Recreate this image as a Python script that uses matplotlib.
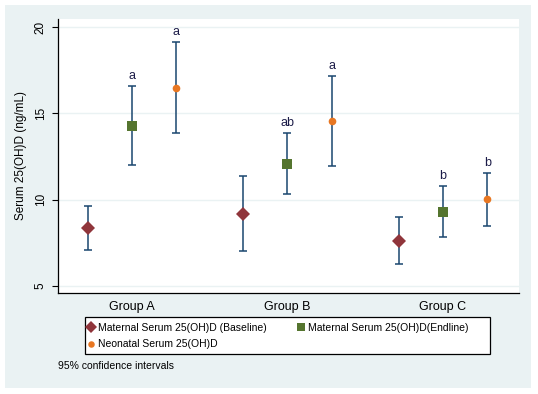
import numpy as np
import matplotlib
matplotlib.use("Agg")
import matplotlib.pyplot as plt
from matplotlib.patches import Rectangle

plt.rcParams['font.family'] = ['Liberation Sans', 'DejaVu Sans']

groups = ['Group A', 'Group B', 'Group C']
series = ['Maternal Serum 25(OH)D (Baseline)', 'Maternal Serum 25(OH)D(Endline)',
          'Neonatal Serum 25(OH)D']

# means and 95% CI bounds, per series, per group
means = [[8.34, 9.17, 7.62],
         [14.25, 12.08, 9.30],
         [16.48, 14.54, 10.02]]
lower = [[7.07, 7.01, 6.27],
         [12.00, 10.31, 7.84],
         [13.84, 11.95, 8.46]]
upper = [[9.63, 11.37, 8.98],
         [16.56, 13.84, 10.77],
         [19.11, 17.14, 11.52]]
letters = [['', '', ''],
           ['a', 'ab', 'b'],
           ['a', 'a', 'b']]

colors = ['#90353B', '#55752F', '#E87722']
markers = ['D', 's', 'o']
msizes = [7, 6.5, 5.5]
navy = '#1A476F'
bg = '#EAF2F3'

fig = plt.figure(figsize=(5.38, 3.94), dpi=100)
fig.patch.set_facecolor('white')
fig.patches.append(Rectangle((5 / 538, 1 - 388 / 394), 526 / 538, 383 / 394,
                             transform=fig.transFigure, facecolor=bg,
                             edgecolor='none', zorder=-10))

ax = fig.add_axes([58 / 538, 1 - 293 / 394, 461 / 538, 274 / 394])
ax.set_facecolor('white')

offsets = [-0.286, 0.0, 0.286]
xg = np.arange(1, 4)
handles = []
for i in range(3):
    m = np.array(means[i])
    lo = np.array(lower[i])
    hi = np.array(upper[i])
    x = xg + offsets[i]
    ax.errorbar(x, m, yerr=[m - lo, hi - m], fmt='none', ecolor=navy,
                elinewidth=1.1, capsize=3, capthick=1.1, zorder=3)
    h, = ax.plot(x, m, linestyle='none', marker=markers[i], color=colors[i],
                 markersize=msizes[i], markeredgewidth=0, zorder=4,
                 label=series[i])
    handles.append(h)
    for xi, hv, t in zip(x, hi, letters[i]):
        if t:
            ax.annotate(t, (xi, hv), xytext=(0, 3), textcoords='offset points',
                        ha='center', va='bottom', fontsize=9, color='#1c1c48')

ax.set_xlim(0.524, 3.489)
ax.set_ylim(4.6, 20.46)
ax.set_yticks([5, 10, 15, 20])
ax.set_yticklabels(['5', '10', '15', '20'], rotation=90, va='center')
ax.set_xticks(xg)
ax.set_xticklabels(groups, fontsize=9)
ax.tick_params(axis='x', length=0, pad=6)
ax.tick_params(axis='y', length=4, width=0.8, labelsize=8.5, pad=4)
ax.grid(axis='y', color=bg, linewidth=1)
ax.set_axisbelow(True)
for s in ['top', 'right']:
    ax.spines[s].set_visible(False)
for s in ['left', 'bottom']:
    ax.spines[s].set_color('black')
    ax.spines[s].set_linewidth(0.9)
ax.set_ylabel('Serum 25(OH)D (ng/mL)', fontsize=8.5, labelpad=6)

# legend frame drawn separately so the columns keep their natural spacing
fig.patches.append(Rectangle((85 / 538, 1 - 354 / 394), 405 / 538, 37 / 394,
                             transform=fig.transFigure, facecolor='white',
                             edgecolor='black', linewidth=0.9, zorder=1))
leg = fig.legend([handles[0], handles[2], handles[1]],
                 [series[0], series[2], series[1]],
                 ncol=2, loc='upper left',
                 bbox_to_anchor=(84 / 538, 1 - 320 / 394),
                 borderaxespad=0, fontsize=7.5, frameon=False,
                 handlelength=0.7, handletextpad=0.35, borderpad=0.3,
                 labelspacing=0.6, columnspacing=2.95, markerscale=0.85)

fig.text(58 / 538, 1 - 366 / 394, '95% confidence intervals', fontsize=7.5,
         ha='left', va='center')

fig.savefig('out.png', dpi=100, facecolor=fig.get_facecolor())
